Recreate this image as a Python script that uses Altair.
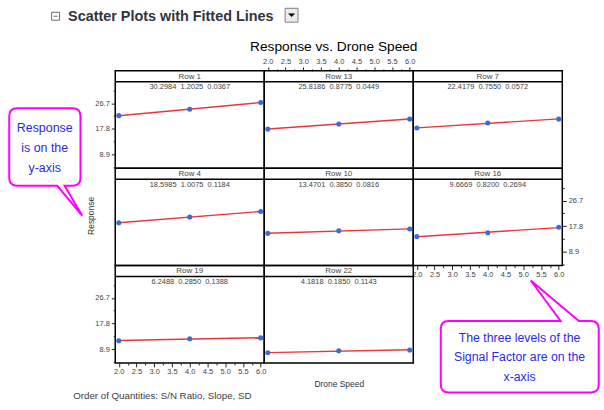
import altair as alt
import pandas as pd

# ---------------- data ----------------
panels = ["Row 1", "Row 13", "Row 7", "Row 4", "Row 10", "Row 16", "Row 19", "Row 22"]
speed_levels = [2.0, 4.0, 6.0]
resp_row1 = [22.4, 24.6, 27.0]
resp_row13 = [17.7, 19.5, 21.2]
resp_row7 = [18.1, 19.8, 21.2]
resp_row4 = [19.0, 21.0, 22.9]
resp_row10 = [15.3, 16.2, 16.8]
resp_row16 = [14.2, 15.5, 17.4]
resp_row19 = [11.8, 12.5, 12.8]
resp_row22 = [7.6, 8.3, 8.6]
sn_ratio = ["30.2984", "25.8186", "22.4179", "18.5985", "13.4701", "9.6669", "6.2488", "4.1818"]
slope = ["1.2025", "0.8775", "0.7550", "1.0075", "0.3850", "0.8200", "0.2850", "0.1850"]
sd = ["0.0367", "0.0449", "0.0572", "0.1184", "0.0816", "0.2694", "0.1388", "0.1143"]
x_major = [2.0, 2.5, 3.0, 3.5, 4.0, 4.5, 5.0, 5.5, 6.0]
x_minor = [2.25, 2.75, 3.25, 3.75, 4.25, 4.75, 5.25, 5.75]
y_major = [8.9, 17.8, 26.7]
y_minor = [4.45, 13.35, 22.25, 31.15]

responses = [resp_row1, resp_row13, resp_row7, resp_row4,
             resp_row10, resp_row16, resp_row19, resp_row22]
pts = pd.DataFrame([
    {"Panel": p, "Speed": s, "Response": r}
    for p, rr in zip(panels, responses) for s, r in zip(speed_levels, rr)
])
gap = "\u00a0\u00a0"
info = pd.DataFrame({
    "Panel": panels,
    "stats": [a + gap + b + gap + c for a, b, c in zip(sn_ratio, slope, sd)],
})
one = alt.Data(values=[{"k": 0}])

# ---------------- style ----------------
F = "Liberation Sans, Arial, sans-serif"
W, H, HDR = 150, 98, 11
BLUE = "#3a6bd6"
RED = "#e8363c"
MAGENTA = "#ff00ff"
TXTBLUE = "#2a2ae6"
TICK_FS = 7.5

xs = alt.Scale(domain=[1.9, 6.1], nice=False, zero=False)
ys = alt.Scale(domain=[4.07, 34.19], range=[H, HDR], nice=False, zero=False)

ymaj_expr = "[" + ",".join(str(v) for v in y_major) + "]"


def x_axis(orient):
    return alt.Axis(
        orient=orient, values=x_major + x_minor,
        labelExpr="datum.value % 0.5 == 0 ? format(datum.value, '.1f') : ''",
        tickSize={"condition": {"test": "datum.value % 0.5 != 0", "value": 2}, "value": 4},
        domain=False, grid=False, labelPadding=1, labelOverlap=False, labelFlush=False,
        labelFont=F, labelFontSize=TICK_FS, labelColor="#444", tickColor="#222", tickWidth=1,
    )


def y_axis(orient):
    return alt.Axis(
        orient=orient, values=y_major + y_minor,
        labelExpr="indexof(" + ymaj_expr + ", datum.value) >= 0 ? format(datum.value, '.1f') : ''",
        tickSize={"condition": {"test": "indexof(" + ymaj_expr + ", datum.value) < 0", "value": 2}, "value": 4},
        domain=False, grid=False, labelPadding=2, labelOverlap=False, labelFlush=False,
        labelFont=F, labelFontSize=TICK_FS, labelColor="#444", tickColor="#222", tickWidth=1,
    )


def text_layer(txt, cx, cy, size, color, font=F, align="center", baseline="middle",
               weight="normal", angle=0, line_height=None):
    kw = dict(font=font, fontSize=size, color=color, align=align, baseline=baseline,
              fontWeight=weight, angle=angle, lineBreak="\n")
    if line_height is not None:
        kw["lineHeight"] = line_height
    return alt.Chart(one).mark_text(**kw).encode(
        x=alt.value(cx), y=alt.value(cy), text=alt.value(txt))


def shape_layer(path, cx, cy, fill, stroke, sw):
    return alt.Chart(one).mark_point(
        shape=path, size=4, filled=True, fill=fill, stroke=stroke,
        strokeWidth=sw, opacity=1,
    ).encode(x=alt.value(cx), y=alt.value(cy))


def cell(i, xaxis=None, yaxis=None, x_title=None, extras=()):
    name = panels[i]
    x = alt.X("Speed:Q", scale=xs, axis=xaxis, title=x_title)
    y = alt.Y("Response:Q", scale=ys, axis=yaxis, title=None)
    base = alt.Chart(pts).transform_filter(alt.datum.Panel == name)
    line = base.transform_regression("Speed", "Response").mark_line(
        color=RED, strokeWidth=1.4).encode(x=x, y=y)
    dots = base.mark_circle(size=26, color=BLUE, opacity=1).encode(x=x, y=y)
    rule = alt.Chart(one).mark_rule(color="black", strokeWidth=1.5).encode(
        x=alt.value(0), x2=alt.value(W), y=alt.value(HDR))
    lab = alt.Chart(info).transform_filter(alt.datum.Panel == name).mark_text(
        font=F, fontSize=8, color="#444").encode(
        x=alt.value(W / 2), y=alt.value(HDR / 2 + 0.3), text="Panel:N")
    st = alt.Chart(info).transform_filter(alt.datum.Panel == name).mark_text(
        font=F, fontSize=7.5, color="#444").encode(
        x=alt.value(W / 2), y=alt.value(HDR + 5.5), text="stats:N")
    return alt.layer(line, dots, rule, lab, st, *extras).properties(width=W, height=H)


# ---------------- decorations ----------------
anchor = alt.Chart(one).mark_rect(fill="white", opacity=1).encode(
    x=alt.value(-115), x2=alt.value(-114), y=alt.value(-69), y2=alt.value(-68))
icon = shape_layer("M-4,-4 H4 V4 H-4 Z M-2,0 H2", -60, -55, "white", "#6a6a6a", 1)
heading = text_layer("Scatter Plots with Fitted Lines", -47.5, -50.5, 14.5, "#333340",
                     align="left", baseline="alphabetic", weight="bold")
button = alt.Chart(one).mark_rect(fill="#ececec", stroke="#808080", strokeWidth=1).encode(
    x=alt.value(171), x2=alt.value(184), y=alt.value(-63), y2=alt.value(-49))
arrow = shape_layer("M-3,-1.5 H3 L0,1.5 Z", 177.5, -56, "black", "black", 0.5)

title = text_layer("Response vs. Drone Speed", 70, -24, 13.8, "black")

left_callout = shape_layer(
    "M-98.7,-60.3 H-43 Q-35,-60.3 -35,-52.3 V9.7 Q-35,17.7 -43,17.7 H-51 "
    "L-33.3,47.7 L-58.3,17.7 H-98.7 Q-106.7,17.7 -106.7,9.7 V-52.3 "
    "Q-106.7,-60.3 -98.7,-60.3 Z",
    0, 0, "white", MAGENTA, 2)
left_text = text_layer("Response\nis on the\ny-axis", -71, -40.3, 12.5, TXTBLUE, line_height=20)
resp_title = text_layer("Response", -24.7, 48, 8.5, "#333", angle=270)

right_callout = shape_layer(
    "M35.7,153.7 H148.3 L118.3,113 L166.7,153.7 H178.7 Q186.7,153.7 186.7,161.7 "
    "V217.7 Q186.7,225.7 178.7,225.7 H35.7 Q27.7,225.7 27.7,217.7 V161.7 "
    "Q27.7,153.7 35.7,153.7 Z",
    0, 0, "white", MAGENTA, 2)
right_text = text_layer("The three levels of the\nSignal Factor are on the\nx-axis",
                        107, 171.3, 12.4, TXTBLUE, line_height=19.2)

footer = text_layer("Order of Quantities: S/N Ratio, Slope, SD", -42.3, 131.7, 9.8, "#404040",
                    align="left")

drone_axis = alt.Axis(orient="bottom", labels=False, ticks=False, domain=False, grid=False,
                      titlePadding=17, titleFont=F, titleFontSize=8.5,
                      titleFontWeight="normal", titleColor="#333")

cells = [
    cell(0, yaxis=y_axis("left"), extras=(anchor, icon, heading, button, arrow)),
    cell(1, xaxis=x_axis("top"), extras=(title,)),
    cell(2),
    cell(3, extras=(left_callout, left_text, resp_title)),
    cell(4),
    cell(5, xaxis=x_axis("bottom"), yaxis=y_axis("right"), extras=(right_callout, right_text)),
    cell(6, xaxis=x_axis("bottom"), yaxis=y_axis("left"), extras=(footer,)),
    cell(7, xaxis=drone_axis, x_title="Drone Speed"),
]

chart = alt.concat(*cells, columns=3, spacing=0, bounds="flush", padding=0).configure_view(
    stroke="black", strokeWidth=1.5)

chart.save("out.html", embed_options={"renderer": "svg", "actions": False})
